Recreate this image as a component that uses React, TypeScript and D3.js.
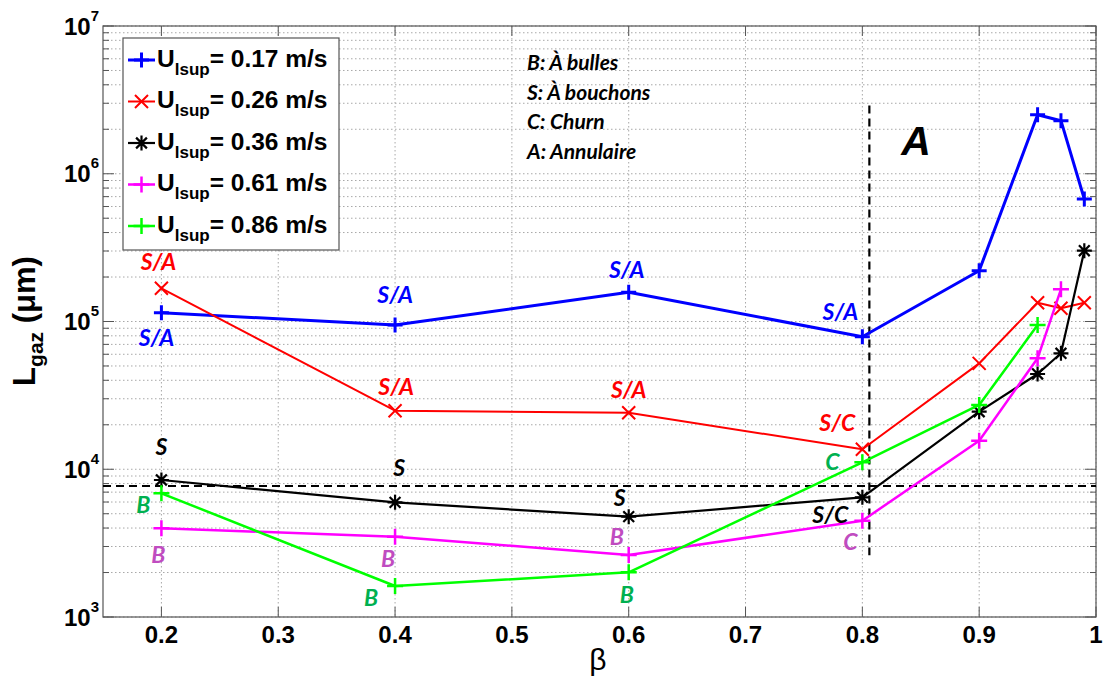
import React from "react";
import * as d3 from "d3";

// ---------- data ----------
const betaFull = [0.2, 0.4, 0.6, 0.8, 0.9, 0.95, 0.97, 0.99];
const betaMagenta = [0.2, 0.4, 0.6, 0.8, 0.9, 0.95, 0.97];
const betaGreen = [0.2, 0.4, 0.6, 0.8, 0.9, 0.95];

const lBlue = [114700, 94700, 157600, 78900, 220700, 2509000, 2286000, 674600];
const lRed = [167800, 24900, 24130, 13650, 52100, 134000, 122800, 134000];
const lBlack = [8460, 5970, 4775, 6457, 24520, 44140, 60940, 301400];
const lMagenta = [3985, 3498, 2628, 4486, 15610, 56330, 165200];
const lGreen = [6873, 1621, 2005, 11140, 27220, 94700];

const legendLabels = ["0.17 m/s", "0.26 m/s", "0.36 m/s", "0.61 m/s", "0.86 m/s"];

// regime labels for the first four points (β = 0.2, 0.4, 0.6, 0.8)
const regBlue = ["S/A", "S/A", "S/A", "S/A"];
const regRed = ["S/A", "S/A", "S/A", "S/C"];
const regBlack = ["S", "S", "S", "S/C"];
const regMagenta = ["B", "B", "B", "C"];
const regGreen = ["B", "B", "B", "C"];

const regimeKey = ["B: À bulles", "S: À bouchons", "C: Churn", "A: Annulaire"];

const xTicks = [0.2, 0.3, 0.4, 0.5, 0.6, 0.7, 0.8, 0.9, 1];
const yDecades = [3, 4, 5, 6, 7];

const thresholdL = 7700;
const betaAnnular = 0.806;
const annularSpan = [2.9e6, 2.62e3];

// ---------- layout / style ----------
const W = 1104;
const H = 679;
const L = 103, R = 1096, T = 26, B = 617;

const x = d3.scaleLinear().domain([0.15, 1]).range([L, R]);
const y = d3.scaleLog().domain([1e3, 1e7]).range([B, T]);

type Marker = "plus" | "cross" | "star";

const series = [
  { betas: betaFull, vals: lBlue, color: "#0000ff", labelColor: "#0000ff", width: 3, marker: "plus" as Marker, ms: 7.5, regs: regBlue,
    offs: [[-5, 25], [0, -30], [-2, -22], [-22, -25]] },
  { betas: betaFull, vals: lRed, color: "#ff0000", labelColor: "#ff0000", width: 2, marker: "cross" as Marker, ms: 6.5, regs: regRed,
    offs: [[-3, -26], [1, -24], [0, -23], [-25, -26]] },
  { betas: betaFull, vals: lBlack, color: "#000000", labelColor: "#000000", width: 2.2, marker: "star" as Marker, ms: 7.5, regs: regBlack,
    offs: [[0, -33], [4, -34], [-9, -19], [-32, 18]] },
  { betas: betaMagenta, vals: lMagenta, color: "#ff00ff", labelColor: "#c04cc0", width: 2.5, marker: "plus" as Marker, ms: 8, regs: regMagenta,
    offs: [[-3, 27], [-7, 22], [-12, -18], [-12, 21]] },
  { betas: betaGreen, vals: lGreen, color: "#00ff00", labelColor: "#00b050", width: 2.5, marker: "plus" as Marker, ms: 8, regs: regGreen,
    offs: [[-18, 12], [-24, 12], [-2, 23], [-30, 0]] },
];

function markerPath(m: Marker, cx: number, cy: number, s: number): string {
  const p = `M${cx - s},${cy}H${cx + s}M${cx},${cy - s}V${cy + s}`;
  const d = s * 0.72;
  const c = `M${cx - d},${cy - d}L${cx + d},${cy + d}M${cx - d},${cy + d}L${cx + d},${cy - d}`;
  if (m === "plus") return p;
  if (m === "cross") return `M${cx - s},${cy - s}L${cx + s},${cy + s}M${cx - s},${cy + s}L${cx + s},${cy - s}`;
  return p + c;
}

const labelFont = "Lato, 'Open Sans', sans-serif";
const axisFont = "'Liberation Sans', Arial, sans-serif";

export default function App() {
  const line = d3
    .line<[number, number]>()
    .x((d) => x(d[0]))
    .y((d) => y(d[1]));

  const minorVals: number[] = [];
  for (let dcd = 3; dcd < 7; dcd++) {
    for (let k = 2; k <= 9; k++) minorVals.push(k * Math.pow(10, dcd));
  }
  const majorVals = yDecades.map((d) => Math.pow(10, d));

  const legendX0 = 123, legendY0 = 38, legendW = 216, legendH = 212;
  const legendRows = [59, 100.5, 142, 183.5, 225];

  return (
    <svg width={W} height={H} style={{ position: "absolute", left: 0, top: 0, background: "#fff" }}>
      <rect x={0} y={0} width={W} height={H} fill="#fff" />
      {/* grid */}
      <g stroke="#a8a8a8" strokeWidth={1} strokeDasharray="1.5,2.5" fill="none">
        {xTicks.map((t) => (
          <line key={"gx" + t} x1={x(t)} x2={x(t)} y1={T} y2={B} />
        ))}
        {minorVals.concat(majorVals).map((v) => (
          <line key={"gy" + v} x1={L} x2={R} y1={y(v)} y2={y(v)} />
        ))}
      </g>
      {/* ticks */}
      <g stroke="#555" strokeWidth={1} fill="none">
        {xTicks.map((t) => (
          <g key={"tx" + t}>
            <line x1={x(t)} x2={x(t)} y1={B} y2={B - 10} />
            <line x1={x(t)} x2={x(t)} y1={T} y2={T + 10} />
          </g>
        ))}
        {minorVals.map((v) => (
          <g key={"tym" + v}>
            <line x1={L} x2={L + 6} y1={y(v)} y2={y(v)} />
            <line x1={R} x2={R - 6} y1={y(v)} y2={y(v)} />
          </g>
        ))}
        {majorVals.map((v) => (
          <g key={"tyM" + v}>
            <line x1={L} x2={L + 11} y1={y(v)} y2={y(v)} />
            <line x1={R} x2={R - 11} y1={y(v)} y2={y(v)} />
          </g>
        ))}
      </g>
      {/* frame */}
      <rect x={L} y={T} width={R - L} height={B - T} fill="none" stroke="#555" strokeWidth={1.2} />

      {/* tick labels */}
      <g fontFamily={axisFont} fontWeight="bold" fill="#000">
        {xTicks.map((t) => (
          <text key={"lx" + t} x={x(t)} y={643} fontSize={24} textAnchor="middle">
            {String(t)}
          </text>
        ))}
        {yDecades.map((d) => (
          <text key={"ly" + d} x={99} y={y(Math.pow(10, d)) + 8.5} fontSize={24} textAnchor="end">
            10
            <tspan fontSize={15} dy={-14}>
              {d}
            </tspan>
          </text>
        ))}
      </g>

      {/* axis titles */}
      <text x={598} y={670} fontFamily={axisFont} fontSize={30} textAnchor="middle">
        β
      </text>
      <text transform="translate(35,321) rotate(-90)" fontFamily={axisFont} fontWeight="bold" fontSize={31} textAnchor="middle">
        L
        <tspan fontSize={21} dy={8}>gaz</tspan>
        <tspan dy={-8}> (μm)</tspan>
      </text>

      {/* dashed reference lines */}
      <line x1={L} x2={R} y1={y(thresholdL)} y2={y(thresholdL)} stroke="#000" strokeWidth={2.2} strokeDasharray="8,5" />
      <line
        x1={x(betaAnnular)}
        x2={x(betaAnnular)}
        y1={y(annularSpan[0])}
        y2={y(annularSpan[1])}
        stroke="#000"
        strokeWidth={2.2}
        strokeDasharray="8,5"
      />

      {/* series */}
      {series.map((s, i) => {
        const pts = s.betas.map((b, j) => [b, s.vals[j]] as [number, number]);
        return (
          <g key={"s" + i}>
            <path d={line(pts) || ""} fill="none" stroke={s.color} strokeWidth={s.width} strokeLinejoin="round" />
            {pts.map((p, j) => (
              <path key={j} d={markerPath(s.marker, x(p[0]), y(p[1]), s.ms)} stroke={s.color} strokeWidth={s.width} fill="none" />
            ))}
          </g>
        );
      })}

      {/* regime labels */}
      <g fontFamily={labelFont} fontWeight="bold" fontStyle="italic" fontSize={23} textAnchor="middle">
        {series.map((s, i) =>
          s.regs.map((r, j) => (
            <text key={"r" + i + "_" + j} x={x(s.betas[j]) + s.offs[j][0]} y={y(s.vals[j]) + s.offs[j][1] + 8} fill={s.labelColor}>
              {r}
            </text>
          ))
        )}
      </g>

      {/* regime key */}
      <g fontFamily={labelFont} fontWeight="bold" fontStyle="italic" fontSize={21} fill="#000">
        {regimeKey.map((k, i) => (
          <text key={k} x={527} y={70 + i * 29.7}>
            {k}
          </text>
        ))}
      </g>
      <text x={916} y={155} fontFamily={axisFont} fontWeight="bold" fontStyle="italic" fontSize={41} textAnchor="middle">
        A
      </text>

      {/* legend */}
      <rect x={legendX0} y={legendY0} width={legendW} height={legendH} fill="#fff" stroke="#555" strokeWidth={1.2} />
      {series.map((s, i) => {
        const ry = legendRows[i];
        return (
          <g key={"lg" + i}>
            <line x1={128} x2={155} y1={ry + 1} y2={ry + 1} stroke={s.color} strokeWidth={s.width} />
            <path d={markerPath(s.marker, 141.5, ry + 1, s.ms)} stroke={s.color} strokeWidth={s.width} fill="none" />
            <text x={157} y={ry + 7.5} fontFamily={axisFont} fontWeight="bold" fontSize={24.5} fill="#000">
              U
              <tspan fontSize={17} dy={8}>lsup</tspan>
              <tspan dy={-8}>{"= " + legendLabels[i]}</tspan>
            </text>
          </g>
        );
      })}
    </svg>
  );
}
